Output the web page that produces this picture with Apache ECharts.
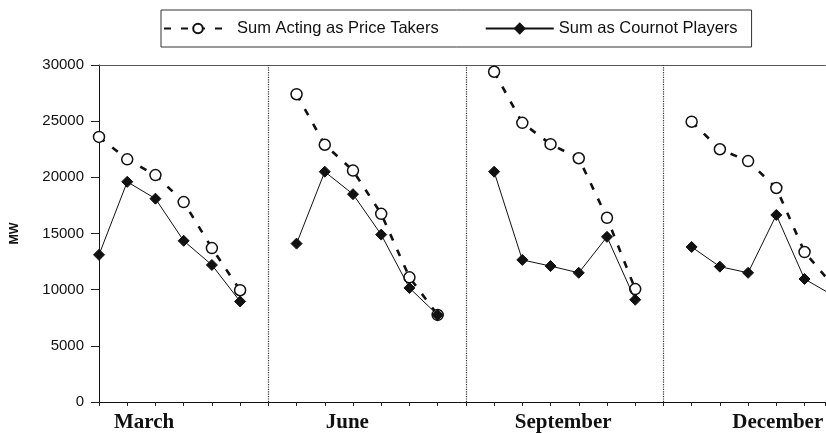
<!DOCTYPE html>
<html>
<head>
<meta charset="utf-8">
<script src="https://cdn.jsdelivr.net/npm/echarts@6/dist/echarts.min.js"></script>
<style>
  html, body { margin: 0; padding: 0; background: #fff; }
  #chart { width: 826px; height: 433px; }
</style>
</head>
<body>
<div id="chart"></div>
<script>
// Monthly panels, six load points each (MW)
const months = ['March', 'June', 'September', 'December'];

const marchTakers  = [23600, 21600, 20200, 17800, 13700, 9950];
const marchCournot = [13100, 19600, 18100, 14350, 12200, 8950];

const juneTakers   = [27400, 22900, 20600, 16750, 11100, 7750];
const juneCournot  = [14100, 20500, 18500, 14900, 10150, 7750];

const septTakers   = [29400, 24850, 22950, 21700, 16400, 10050];
const septCournot  = [20500, 12650, 12100, 11500, 14700, 9100];

const decTakers    = [24950, 22500, 21450, 19050, 13350, 10400];
const decCournot   = [13800, 12050, 11500, 16650, 10950, 9500];

const yTicks = [0, 5000, 10000, 15000, 20000, 25000, 30000];

const takersByMonth  = [marchTakers, juneTakers, septTakers, decTakers];
const cournotByMonth = [marchCournot, juneCournot, septCournot, decCournot];

// Each panel holds 6 slots plus one empty slot used as the separator
const SLOTS = 7;
const X_MAX = 25.74;                       // the last panel runs past the right edge
const separators = [6, 13, 20];
const monthLabelAt = [1.6, 8.8, 16.45, 24.05];

function buildSeries(groups) {
  const out = [];
  groups.forEach((vals, m) => {
    vals.forEach((v, k) => out.push([m * SLOTS + k, v]));
    out.push([m * SLOTS + SLOTS - 1, '-']);   // break the line between panels
  });
  return out;
}

const chart = echarts.init(document.getElementById('chart'), null, { renderer: 'canvas' });

const FONT_SANS = 'Liberation Sans, Arial, sans-serif';
const FONT_SERIF = 'Liberation Serif, Times New Roman, serif';

chart.setOption({
  animation: false,
  backgroundColor: '#fff',
  legend: {
    left: 161,
    top: 10,
    itemWidth: 68,
    itemHeight: 12,
    itemGap: 46,
    padding: [10, 14, 10, 2],
    borderColor: '#333',
    borderWidth: 1,
    borderRadius: 0,
    textStyle: { fontFamily: FONT_SANS, fontSize: 16.5, color: '#111' },
    data: ['Sum Acting as Price Takers', 'Sum as Cournot Players']
  },
  grid: { left: 96, right: 0, top: 65, bottom: 31 },
  xAxis: [
    {
      type: 'value',
      min: 0,
      max: X_MAX,
      interval: 1,
      position: 'bottom',
      axisLine: { show: true, lineStyle: { color: '#111', width: 1 } },
      axisTick: { show: true, length: 4, lineStyle: { color: '#222' } },
      axisLabel: { show: false },
      splitLine: { show: false }
    },
    {
      type: 'value',
      min: 0,
      max: X_MAX,
      position: 'bottom',
      offset: 0,
      axisLine: { show: false },
      axisTick: { show: false },
      splitLine: { show: false },
      axisLabel: {
        show: true,
        customValues: monthLabelAt,
        margin: 10,
        fontFamily: FONT_SERIF,
        fontWeight: 'bold',
        fontSize: 21,
        color: '#111',
        formatter: function (v) {
          const i = monthLabelAt.indexOf(v);
          return i >= 0 ? months[i] : '';
        }
      }
    },
    {
      type: 'value',
      min: 0,
      max: X_MAX,
      position: 'top',
      axisLine: { show: true, lineStyle: { color: '#555', width: 1 } },
      axisTick: { show: false },
      axisLabel: { show: false },
      splitLine: { show: false }
    }
  ],
  yAxis: {
    type: 'value',
    min: 0,
    max: 30000,
    interval: 5000,
    name: 'MW',
    nameLocation: 'middle',
    nameGap: 78,
    nameTextStyle: { fontFamily: FONT_SANS, fontWeight: 'bold', fontSize: 12.5, color: '#111' },
    axisLine: { show: true, lineStyle: { color: '#111', width: 1 } },
    axisTick: { show: true, length: 8, lineStyle: { color: '#222' } },
    axisLabel: {
      margin: 15,
      fontFamily: FONT_SANS,
      fontSize: 15,
      color: '#111',
      customValues: yTicks,
      formatter: function (v) { return String(v); }
    },
    splitLine: { show: false }
  },
  series: [
    {
      name: 'Sum Acting as Price Takers',
      type: 'line',
      xAxisIndex: 0,
      data: buildSeries(takersByMonth),
      connectNulls: false,
      clip: true,
      symbol: 'circle',
      symbolSize: 11,
      itemStyle: { color: '#fff', borderColor: '#111', borderWidth: 1.5 },
      lineStyle: { color: '#111', width: 2.6, type: [7, 10] },
      z: 2,
      markLine: {
        silent: true,
        symbol: ['none', 'none'],
        label: { show: false },
        lineStyle: { type: 'dotted', color: '#333', width: 1.2 },
        data: separators.map(x => ({ xAxis: x }))
      }
    },
    {
      name: 'Sum as Cournot Players',
      type: 'line',
      xAxisIndex: 0,
      data: buildSeries(cournotByMonth),
      connectNulls: false,
      clip: true,
      symbol: 'diamond',
      symbolSize: 11,
      itemStyle: { color: '#111', borderColor: '#111', borderWidth: 1 },
      lineStyle: { color: '#111', width: 1 },
      z: 3
    }
  ]
});
</script>
</body>
</html>
